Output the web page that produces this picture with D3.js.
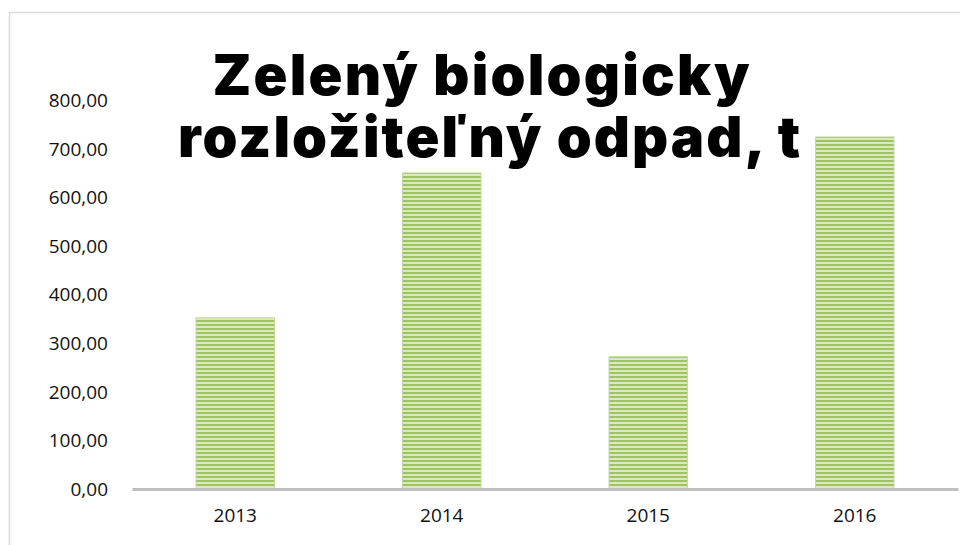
<!DOCTYPE html>
<html><head><meta charset="utf-8">
<script src="https://cdn.jsdelivr.net/npm/d3@7"></script>
<style>html,body{margin:0;padding:0;background:#fff;}svg{display:block;}</style>
</head><body>
<svg id="c" width="960" height="545"></svg>
<script>
const categories = ["2013", "2014", "2015", "2016"];
const values = [352, 650, 272, 724];
const yTicks = [0, 100, 200, 300, 400, 500, 600, 700, 800];
const titleLines = ["Zelený biologicky", "rozložiteľný odpad, t"];

const svg = d3.select("#c");
const W = 960, H = 545;
const m = {left: 132, right: 2, top: 100, bottom: 56};

// chart frame
svg.append("rect").attr("x", 9.5).attr("y", 12.5).attr("width", 970).attr("height", 600)
  .attr("fill", "none").attr("stroke", "#d9d9d9").attr("stroke-width", 1.5);

const defs = svg.append("defs");
const pat = defs.append("pattern").attr("id", "stripes").attr("patternUnits", "userSpaceOnUse")
  .attr("width", 8).attr("height", 4);
pat.append("rect").attr("width", 8).attr("height", 4).attr("fill", "#dbe8c2");
pat.append("rect").attr("y", 0).attr("width", 8).attr("height", 2).attr("fill", "#9fc35e");

const x = d3.scaleBand().domain(categories).range([m.left, W - m.right]).paddingInner(0.62).paddingOuter(0.31);
const y = d3.scaleLinear().domain([0, 800]).range([489, 100]);

// bars
svg.append("g").selectAll("rect").data(values).join("rect")
  .attr("x", (d, i) => x(categories[i]))
  .attr("width", x.bandwidth())
  .attr("y", d => y(d))
  .attr("height", d => y(0) - y(d))
  .attr("fill", "url(#stripes)")
  .attr("stroke", "#c3da98").attr("stroke-width", 1);

// y axis labels
const yAxis = d3.axisLeft(y).tickValues(yTicks).tickSize(0).tickPadding(0)
  .tickFormat(d => d3.format(".2f")(d).replace(".", ","));
const gy = svg.append("g").attr("transform", "translate(108,0)").call(yAxis);
gy.select(".domain").remove();
gy.selectAll("text").attr("font-family", "Open Sans").attr("font-size", 19).attr("fill", "#111").attr("dy", "0.34em");

// x axis
const xAxis = d3.axisBottom(x).tickSize(0).tickPadding(20);
const gx = svg.append("g").attr("transform", "translate(0,489)").call(xAxis);
gx.select(".domain").attr("stroke", "#bfbfbf").attr("stroke-width", 3);
gx.selectAll("text").attr("font-family", "Open Sans").attr("font-size", 19).attr("fill", "#111");

// title
const tl = [{t: titleLines[0], cx: 481, y: 95, len: 537}, {t: titleLines[1], cx: 489, y: 157, len: 622}];
svg.append("g").selectAll("text").data(tl).join("text")
  .attr("x", d => d.cx).attr("y", d => d.y)
  .attr("text-anchor", "middle")
  .attr("font-family", "Inter, 'DejaVu Sans', sans-serif").attr("font-weight", 900)
  .attr("font-size", 56).attr("fill", "#000")
  .attr("textLength", d => d.len).attr("lengthAdjust", "spacing")
  .text(d => d.t);
</script>
</body></html>
